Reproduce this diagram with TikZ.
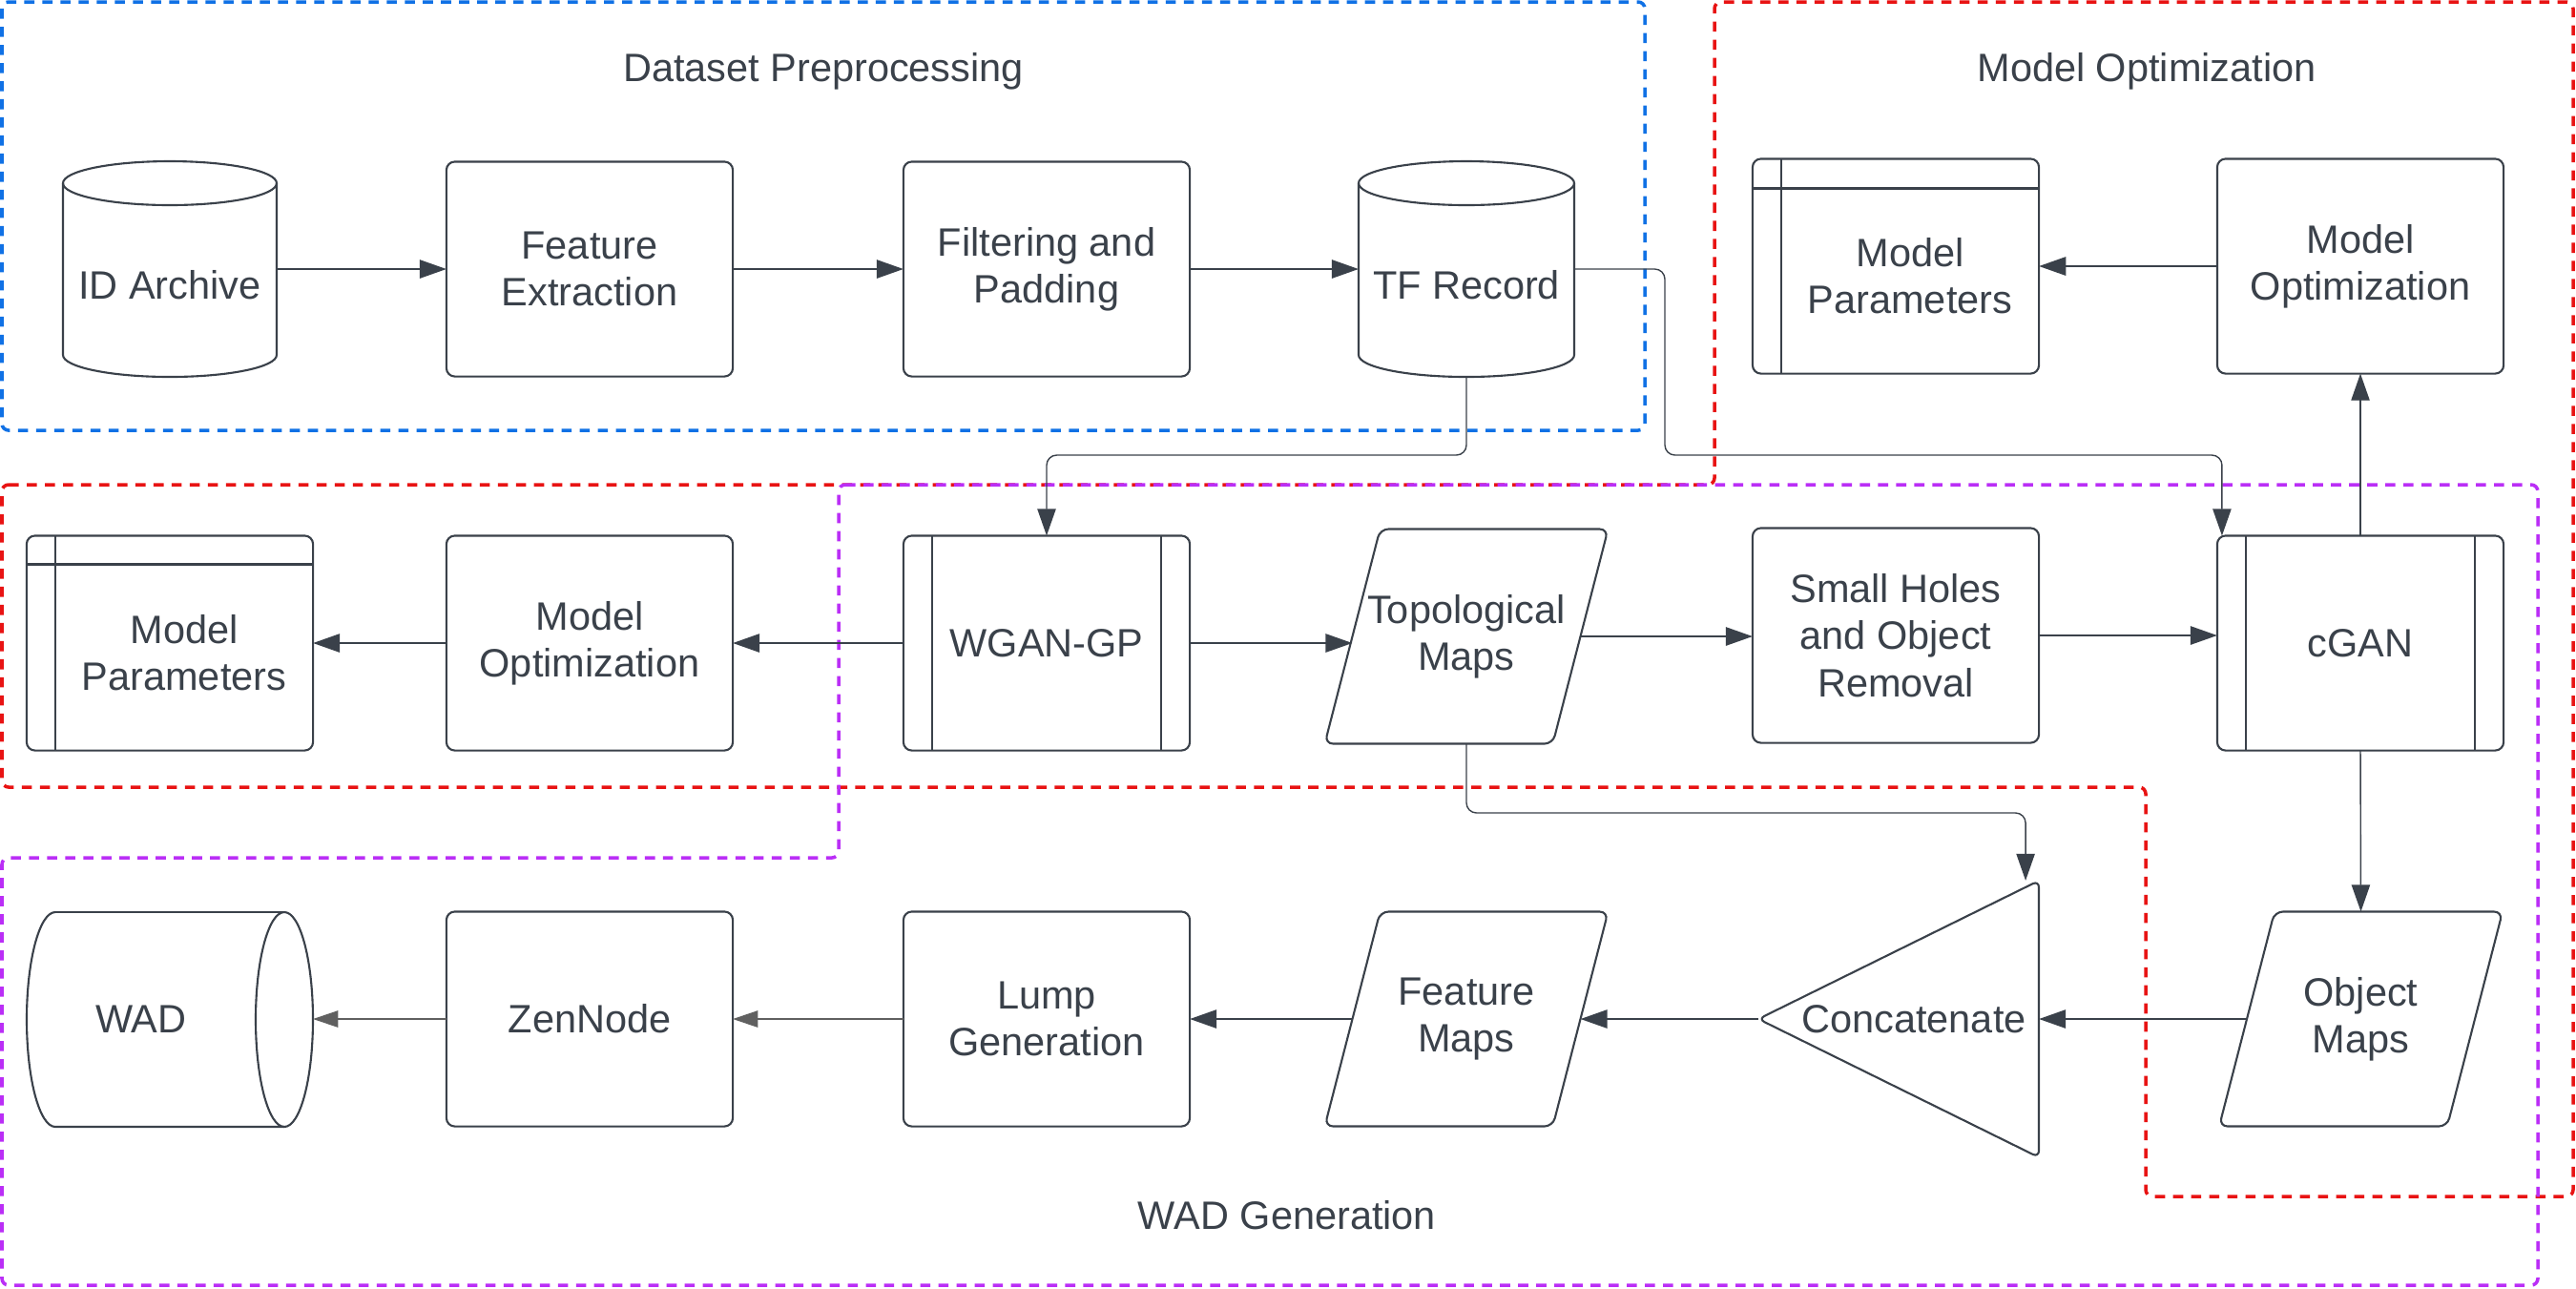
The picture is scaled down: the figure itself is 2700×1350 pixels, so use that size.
\documentclass[tikz,border=0pt]{standalone}
\usepackage{fontspec}
\setmainfont{Liberation Sans}
\usepackage{xcolor}
\usetikzlibrary{arrows.meta}

\definecolor{ink}{RGB}{58,65,74}
\definecolor{faint}{RGB}{96,96,96}
\definecolor{grpblue}{RGB}{16,113,229}
\definecolor{grpred}{RGB}{232,19,19}
\definecolor{grppurple}{RGB}{186,46,246}

\begin{document}
\begin{tikzpicture}[x=0.01cm,y=0.01cm,yscale=-1,
  every node/.style={font=\fontsize{11.8pt}{14pt}\selectfont, text=ink, align=center},
  grp/.style={line width=1pt, dash pattern=on 3pt off 2.4pt, rounded corners=2pt},
  shapeline/.style={draw=ink, line width=0.6pt},
  blk/.style={shapeline, rounded corners=2.5pt, minimum width=3cm, minimum height=2.25cm, inner sep=0pt, outer sep=0pt},
  cyl/.style={minimum height=2.26cm, inner sep=0pt, outer sep=0pt, text height=18pt, text depth=0pt},
  slant/.style={minimum width=2.39cm, minimum height=2.25cm, inner sep=0pt, outer sep=0pt},
  flow/.style={draw=ink, line width=0.55pt, -{Triangle[length=8pt,width=5.5pt]}},
  link/.style={draw=ink, line width=0.4pt, rounded corners=3pt, -{Triangle[length=8pt,width=5.5pt]}},
  faintflow/.style={draw=faint, line width=0.35pt, -{Triangle[length=7.5pt,width=5pt]}}
]
\useasboundingbox (0,0) rectangle (2700,1350);

%Shape: Dashed Frames
\draw[grp, grpblue] (2,2) rectangle (1724,451);
\draw[grp, grpred] (2,508) -- (1797,508) -- (1797,2) -- (2697,2) -- (2697,1254) -- (2249,1254) -- (2249,825) -- (2,825) -- cycle;
\draw[grp, grppurple] (879,508) -- (2660,508) -- (2660,1347) -- (2,1347) -- (2,899) -- (879,899) -- cycle;

% Text Node
\node (tprep) at (863,75) {Dataset Preprocessing};
% Text Node
\node (topt) at (2250,75) {Model Optimization};
% Text Node
\node (twad) at (1349,1274) {WAD Generation};

%Shape: Can
\draw[shapeline] (66,192) -- (66,372) arc[start angle=180, end angle=0, x radius=112, y radius=23] -- (290,192);
\draw[shapeline] (178,192) ellipse[x radius=112, y radius=23];
\node[cyl, minimum width=2.24cm] (idarch) at (178,282) {ID Archive};
%Shape: Can
\draw[shapeline] (1424,192) -- (1424,372) arc[start angle=180, end angle=0, x radius=113, y radius=23] -- (1650,192);
\draw[shapeline] (1537,192) ellipse[x radius=113, y radius=23];
\node[cyl, minimum width=2.26cm] (tfrec) at (1537,282) {TF Record};
%Shape: Horizontal Can
\draw[shapeline] (58,956) arc[start angle=270, end angle=90, x radius=30, y radius=112.5] -- (298,1181);
\draw[shapeline] (58,956) -- (298,956);
\draw[shapeline] (298,1068.5) ellipse[x radius=30, y radius=112.5];
\node[minimum width=3cm, minimum height=2.25cm, inner sep=0pt, outer sep=0pt] (wad) at (178,1068) {WAD\hspace*{0.6cm}};

%Shape: Rectangle
\node[blk] (fext) at (618,282) {Feature\\Extraction};
\node[blk] (filt) at (1097,282) {Filtering and\\Padding};
\node[blk] (mopt2) at (2474,279) {Model\\Optimization};
\node[blk] (mopt1) at (618,674) {Model\\Optimization};
\node[blk] (holes) at (1987,666) {Small Holes\\and Object\\Removal};
\node[blk] (zen) at (618,1068) {ZenNode};
\node[blk] (lump) at (1097,1068) {Lump\\Generation};

%Shape: Internal Storage
\node[blk] (mpar2) at (1987,279) {};
\draw[shapeline] ([xshift=0.3cm]mpar2.north west) -- ([xshift=0.3cm]mpar2.south west);
\draw[shapeline] (mpar2.north west) ++(0,31) -- ++(300,0);
\node (mpar2txt) at ([shift={(15,10)}]mpar2.center) {Model\\Parameters};
\node[blk] (mpar1) at (178,674) {};
\draw[shapeline] ([xshift=0.3cm]mpar1.north west) -- ([xshift=0.3cm]mpar1.south west);
\draw[shapeline] (mpar1.north west) ++(0,30) -- ++(300,0);
\node (mpar1txt) at ([shift={(15,10)}]mpar1.center) {Model\\Parameters};

%Shape: Predefined Process
\node[blk] (wgan) at (1097,674) {WGAN-GP};
\draw[shapeline] ([xshift=0.3cm]wgan.north west) -- ([xshift=0.3cm]wgan.south west);
\draw[shapeline] ([xshift=-0.3cm]wgan.north east) -- ([xshift=-0.3cm]wgan.south east);
\node[blk] (cgan) at (2474,674) {cGAN};
\draw[shapeline] ([xshift=0.3cm]cgan.north west) -- ([xshift=0.3cm]cgan.south west);
\draw[shapeline] ([xshift=-0.3cm]cgan.north east) -- ([xshift=-0.3cm]cgan.south east);

%Shape: Data
\draw[shapeline, rounded corners=2.5pt] (1446.5,554.5) -- (1685.5,554.5) -- (1627.5,779.5) -- (1388.5,779.5) -- cycle;
\node[slant] (topo) at (1537,667) {Topological\\Maps};
\draw[shapeline, rounded corners=2.5pt] (1446.5,955.5) -- (1685.5,955.5) -- (1627.5,1180.5) -- (1388.5,1180.5) -- cycle;
\node[slant] (fmap) at (1537,1068) {Feature\\Maps};
\draw[shapeline, rounded corners=2.5pt] (2384,955.5) -- (2623,955.5) -- (2565,1180.5) -- (2326,1180.5) -- cycle;
\node[slant] (omap) at (2474.5,1068) {Object\\Maps};

%Shape: Triangle
\draw[shapeline, rounded corners=2pt] (1843,1068) -- (2137,923) -- (2137,1213) -- cycle;
\node[minimum width=2.94cm, minimum height=2.9cm, inner sep=0pt, outer sep=0pt] (concat) at (1990,1068) {\hspace*{0.32cm}Concatenate};

%Straight Lines
\draw[flow] (fext.west -| idarch.east) -- (fext.west);
\draw[flow] (fext) -- (filt);
\draw[flow] (filt.east) -- (filt.east -| tfrec.west);
\draw[flow] (mopt2) -- (mpar2);
\draw[link] (cgan.north) -- (mopt2.south);
\draw[flow] (wgan) -- (mopt1);
\draw[flow] (mopt1) -- (mpar1);
\draw[flow] (wgan.east) -- (wgan.east -| topo.west);
\draw[flow] (topo.east) -- (topo.east -| holes.west);
\draw[flow] (holes.east) -- (holes.east -| cgan.west);
\draw[link] (cgan.south) -- (omap.north);
\draw[flow] (omap.west) -- (concat.east);
\draw[flow] (concat.west) -- (fmap.east);
\draw[flow] (fmap.west) -- (lump.east);
\draw[faintflow] (lump) -- (zen);
\draw[faintflow] (zen) -- (wad);

%Elbow Lines
\coordinate (tfbend) at (1300,477);
\draw[link] (tfrec.south) |- (tfbend) -| (wgan.north);
\coordinate (cganbend) at (1745,477);
\draw[link] (tfrec.east) -| (cganbend) -| ([xshift=0.05cm]cgan.north west);
\coordinate (topobend) at (1800,852);
\draw[link] (topo.south) |- (topobend) -| ([xshift=-0.14cm]concat.north east);

\end{tikzpicture}
\end{document}
